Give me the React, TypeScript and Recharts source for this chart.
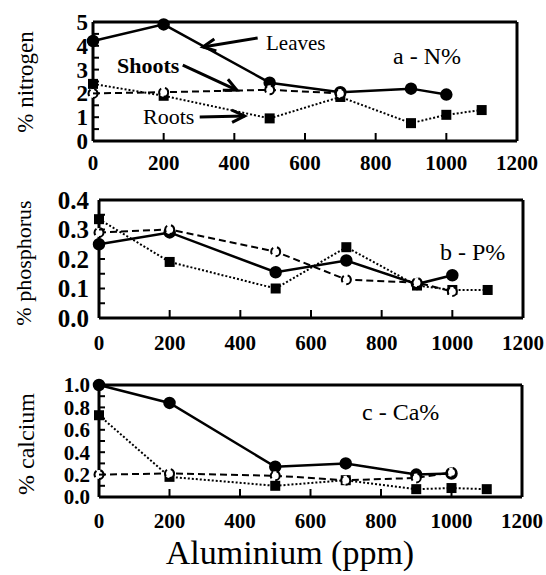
import { LineChart, Line, XAxis, YAxis, ReferenceLine } from "recharts";

const FONT = "'Liberation Serif', 'Times New Roman', serif";

const xTicks = [0, 200, 400, 600, 800, 1000, 1200];
const xInner = [200, 400, 600, 800, 1000];

// a - N%
const nLeavesX = [0, 200, 500, 700, 900, 1000];
const nLeaves = [4.2, 4.9, 2.45, 2.05, 2.2, 1.95];
const nShootsX = [0, 200, 500, 700];
const nShoots = [2.0, 2.05, 2.15, 2.0];
const nRootsX = [0, 200, 500, 700, 900, 1000, 1100];
const nRoots = [2.4, 1.9, 0.95, 1.85, 0.75, 1.1, 1.3];
const nLabels = [0, 1, 2, 3, 4, 5];
const nMarks = [0, 0.5, 1, 1.5, 2, 2.5, 3, 3.5, 4, 4.5, 5];

// b - P%
const pLeavesX = [0, 200, 500, 700, 900, 1000];
const pLeaves = [0.25, 0.29, 0.155, 0.195, 0.115, 0.145];
const pShootsX = [0, 200, 500, 700, 900, 1000];
const pShoots = [0.29, 0.3, 0.225, 0.13, 0.12, 0.09];
const pRootsX = [0, 200, 500, 700, 900, 1000, 1100];
const pRoots = [0.335, 0.19, 0.1, 0.24, 0.11, 0.095, 0.095];
const pLabels = [0, 0.1, 0.2, 0.3, 0.4];
const pMarks = [0, 0.05, 0.1, 0.15, 0.2, 0.25, 0.3, 0.35, 0.4];

// c - Ca%
const cLeavesX = [0, 200, 500, 700, 900, 1000];
const cLeaves = [1.0, 0.84, 0.27, 0.3, 0.2, 0.21];
const cShootsX = [0, 200, 500, 700, 900, 1000];
const cShoots = [0.2, 0.21, 0.19, 0.15, 0.17, 0.22];
const cRootsX = [0, 200, 500, 700, 900, 1000, 1100];
const cRoots = [0.73, 0.18, 0.1, 0.15, 0.07, 0.08, 0.07];
const cLabels = [0, 0.2, 0.4, 0.6, 0.8, 1.0];
const cMarks = [0, 0.1, 0.2, 0.3, 0.4, 0.5, 0.6, 0.7, 0.8, 0.9, 1.0];

// annotation arrows in panel a, data coords [tail, head]
const leavesArrow = [{ x: 466, y: 4.33 }, { x: 311, y: 3.95 }];
const shootsArrow = [{ x: 254, y: 3.19 }, { x: 407, y: 2.14 }];
const rootsArrow = [{ x: 302, y: 1.01 }, { x: 429, y: 1.05 }];

const zip = (xs: number[], ys: number[]) => xs.map((x, i) => ({ x, y: ys[i] }));
const has = (list: number[], v: number) => list.some((l) => Math.abs(l - v) < 1e-6);

const arrowShape = (p: any) => {
  const { x1, y1, x2, y2 } = p;
  const a = Math.atan2(y2 - y1, x2 - x1);
  const L = 14, w = 0.45;
  const h1 = [x2 - L * Math.cos(a - w), y2 - L * Math.sin(a - w)];
  const h2 = [x2 - L * Math.cos(a + w), y2 - L * Math.sin(a + w)];
  return (
    <g>
      <line x1={x1} y1={y1} x2={x2} y2={y2} stroke="#000" strokeWidth={3} />
      <polyline points={`${h1[0]},${h1[1]} ${x2},${y2} ${h2[0]},${h2[1]}`} fill="none" stroke="#000" strokeWidth={3} />
    </g>
  );
};

const squareDot = (p: any) => (
  <rect key={`sq-${p.index}`} x={p.cx - 5} y={p.cy - 5} width={10} height={10} fill="#000" />
);

type Panel = {
  top: number; height: number; left: number; right: number; mt: number; xh: number; mb: number;
  yMax: number; marks: number[]; labels: number[]; fmt: (v: number) => string; yFont: number; gap: number; xGap: number;
  leaves: { x: number; y: number }[]; shoots: { x: number; y: number }[]; roots: { x: number; y: number }[];
  arrows?: { x: number; y: number }[][];
};

function Chart({ p }: { p: Panel }) {
  return (
    <div style={{ position: "absolute", left: 0, top: p.top }}>
      <LineChart width={546} height={p.height} margin={{ top: p.mt, right: 546 - p.right - 1, bottom: p.mb, left: 0 }}>
        <XAxis
          dataKey="x" type="number" domain={[0, 1200]} ticks={xTicks} interval={0} height={p.xh}
          tickSize={0} tickMargin={0} tickLine={false} axisLine={{ stroke: "#000", strokeWidth: 3 }}
          tick={(t: any) => (
            <g>
              {has(xInner, t.payload.value) && <line x1={t.x} x2={t.x} y1={t.y} y2={t.y - 8} stroke="#000" strokeWidth={2} />}
              <text x={t.x} y={t.y + p.xGap} dy="0.35em" textAnchor="middle" fontFamily={FONT} fontSize={21} fontWeight="bold" fill="#000">
                {t.payload.value}
              </text>
            </g>
          )}
        />
        <YAxis
          yAxisId="l" type="number" domain={[0, p.yMax]} ticks={p.marks} interval={0} width={p.left}
          tickSize={0} tickMargin={0} tickLine={false} axisLine={{ stroke: "#000", strokeWidth: 3 }}
          tick={(t: any) => (
            <g>
              <line x1={t.x} x2={t.x + 6} y1={t.y} y2={t.y} stroke="#000" strokeWidth={2} />
              {has(p.labels, t.payload.value) && (
                <text x={t.x - p.gap} y={t.y} dy="0.35em" textAnchor="end" fontFamily={FONT} fontSize={p.yFont} fontWeight="bold" fill="#000">
                  {p.fmt(t.payload.value)}
                </text>
              )}
            </g>
          )}
        />
        <YAxis
          yAxisId="r" orientation="right" type="number" domain={[0, p.yMax]} ticks={p.marks} interval={0} width={1}
          tickSize={0} tickMargin={0} tickLine={false} axisLine={{ stroke: "#000", strokeWidth: 3 }}
          tick={(t: any) => <line x1={t.x} x2={t.x - 6} y1={t.y} y2={t.y} stroke="#000" strokeWidth={2} />}
        />
        <ReferenceLine yAxisId="l" y={p.yMax} stroke="#000" strokeWidth={3} />
        {(p.arrows || []).map((seg, i) => (
          <ReferenceLine key={i} yAxisId="l" segment={seg} shape={arrowShape} />
        ))}
        <Line yAxisId="l" data={p.roots} dataKey="y" type="linear" stroke="#000" strokeWidth={2}
          strokeDasharray="2 2" dot={squareDot} isAnimationActive={false} />
        <Line yAxisId="l" data={p.leaves} dataKey="y" type="linear" stroke="#000" strokeWidth={2.5}
          dot={{ r: 5, fill: "#000", stroke: "#000" }} isAnimationActive={false} />
        <Line yAxisId="l" data={p.shoots} dataKey="y" type="linear" stroke="#000" strokeWidth={2}
          strokeDasharray="7 4" dot={{ r: 4.5, fill: "#fff", stroke: "#000", strokeWidth: 2 }} isAnimationActive={false} />
      </LineChart>
    </div>
  );
}

const panelA: Panel = {
  top: 0, height: 185, left: 93, right: 517, mt: 22, xh: 44, mb: 0,
  yMax: 5, marks: nMarks, labels: nLabels, fmt: (v) => String(v), yFont: 23, gap: 5, xGap: 22,
  leaves: zip(nLeavesX, nLeaves), shoots: zip(nShootsX, nShoots), roots: zip(nRootsX, nRoots),
  arrows: [leavesArrow, shootsArrow, rootsArrow],
};
const panelB: Panel = {
  top: 185, height: 180, left: 99, right: 523, mt: 15, xh: 47, mb: 0,
  yMax: 0.4, marks: pMarks, labels: pLabels, fmt: (v) => v.toFixed(1), yFont: 25, gap: 10, xGap: 25,
  leaves: zip(pLeavesX, pLeaves), shoots: zip(pShootsX, pShoots), roots: zip(pRootsX, pRoots),
};
const panelC: Panel = {
  top: 365, height: 210, left: 99, right: 522, mt: 20, xh: 40, mb: 38,
  yMax: 1.0, marks: cMarks, labels: cLabels, fmt: (v) => v.toFixed(1), yFont: 21, gap: 9, xGap: 24,
  leaves: zip(cLeavesX, cLeaves), shoots: zip(cShootsX, cShoots), roots: zip(cRootsX, cRoots),
};

const txt = (s: string, left: number, cy: number, size: number, extra: any = {}) => (
  <div style={{ position: "absolute", left, top: cy, transform: "translateY(-50%)", fontFamily: FONT, fontSize: size, lineHeight: 1, whiteSpace: "nowrap", color: "#000", ...extra }}>
    {s}
  </div>
);

const yTitle = (s: string, cx: number, cy: number, size: number) => (
  <div style={{ position: "absolute", left: cx, top: cy, transform: "translate(-50%, -50%) rotate(-90deg)", fontFamily: FONT, fontSize: size, lineHeight: 1, whiteSpace: "nowrap", color: "#000" }}>
    {s}
  </div>
);

export default function App() {
  return (
    <div style={{ position: "absolute", left: 0, top: 0, width: 546, height: 575, background: "#fff", overflow: "hidden" }}>
      <Chart p={panelA} />
      <Chart p={panelB} />
      <Chart p={panelC} />
      {yTitle("% nitrogen", 25, 82, 23)}
      {yTitle("% phosphorus", 24, 263, 22)}
      {yTitle("% calcium", 26, 444, 24)}
      {txt("Leaves", 266, 43, 21)}
      {txt("Shoots", 117, 66, 22, { fontWeight: "bold" })}
      {txt("Roots", 143, 117, 22)}
      {txt("a - N%", 393, 56, 24)}
      {txt("b - P%", 440, 252, 24)}
      {txt("c - Ca%", 362, 412, 24)}
      <div style={{ position: "absolute", left: 0, width: 580, top: 553, transform: "translateY(-50%)", textAlign: "center", fontFamily: FONT, fontSize: 34, lineHeight: 1, color: "#000" }}>
        Aluminium (ppm)
      </div>
    </div>
  );
}
